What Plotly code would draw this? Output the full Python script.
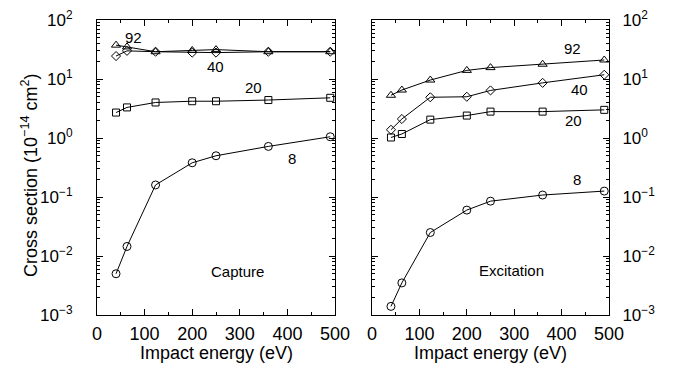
import numpy as np
import plotly.graph_objects as go

# ---------------- data ----------------
energy = [40, 63, 123, 200, 250, 360, 490]

capture_8 = [0.005, 0.0145, 0.16, 0.38, 0.50, 0.72, 1.05]
capture_20 = [2.7, 3.3, 4.0, 4.2, 4.2, 4.4, 4.8]
capture_40 = [24.5, 30, 29, 28, 28, 29, 29]
capture_92 = [37.5, 35, 29, 30.5, 31.5, 29, 29]

excitation_8 = [0.0014, 0.0035, 0.025, 0.06, 0.085, 0.108, 0.126]
excitation_20 = [1.02, 1.17, 2.05, 2.4, 2.8, 2.8, 3.0]
excitation_40 = [1.38, 2.1, 4.9, 5.0, 6.4, 8.6, 11.8]
excitation_92 = [5.3, 6.5, 9.6, 14, 15.6, 17.8, 21]

x_ticks = [0, 100, 200, 300, 400, 500]
y_tickvals = [1e-3, 1e-2, 1e-1, 1, 10, 100]
y_ticktext = ["10<sup>\u22123</sup>", "10<sup>\u22122</sup>", "10<sup>\u22121</sup>",
              "10<sup>0</sup>", "10<sup>1</sup>", "10<sup>2</sup>"]

# label text / positions (data coords: x in eV, y in log10)
cap_labels = [("92", 76, 1.71), ("40", 248, 1.22), ("20", 328, 0.85), ("8", 410, -0.34)]
exc_labels = [("92", 422, 1.51), ("40", 437, 0.83), ("20", 426, 0.29), ("8", 433, -0.71)]

FONT = "Liberation Sans, Arial, Helvetica, sans-serif"

fig = go.Figure()

symbols = [("triangle-up-open", 8), ("diamond-open", 7), ("square-open", 7), ("circle-open", 8)]

for vals, (sym, sz) in zip([capture_92, capture_40, capture_20, capture_8], symbols):
    fig.add_trace(go.Scatter(x=energy, y=vals, mode="lines+markers",
                             line=dict(color="black", width=1),
                             marker=dict(symbol=sym, size=sz, color="black",
                                         line=dict(width=1, color="black")),
                             xaxis="x", yaxis="y", showlegend=False))

for vals, (sym, sz) in zip([excitation_92, excitation_40, excitation_20, excitation_8], symbols):
    fig.add_trace(go.Scatter(x=energy, y=vals, mode="lines+markers",
                             line=dict(color="black", width=1),
                             marker=dict(symbol=sym, size=sz, color="black",
                                         line=dict(width=1, color="black")),
                             xaxis="x2", yaxis="y2", showlegend=False))

xcommon = dict(range=[0, 500], tickvals=x_ticks, ticks="inside", ticklen=6,
               tickcolor="black", showline=True, linecolor="black", linewidth=1,
               mirror="ticks", showgrid=False, zeroline=False, automargin=False,
               tickfont=dict(family=FONT, size=18, color="black"),
               minor=dict(ticks="inside", ticklen=3, dtick=50, tickcolor="black",
                          showgrid=False),
               ticklabelstandoff=2)
ycommon = dict(type="log", range=[-3, 2], tickvals=y_tickvals, ticktext=y_ticktext,
               ticks="inside", ticklen=6, tickcolor="black", showline=True,
               linecolor="black", linewidth=1, mirror="ticks", showgrid=False,
               zeroline=False, automargin=False,
               tickfont=dict(family=FONT, size=17, color="black"),
               minor=dict(ticks="inside", ticklen=3, dtick="D1", tickcolor="black",
                          showgrid=False))

fig.update_layout(
    width=673, height=375,
    margin=dict(l=0, r=0, t=0, b=0, autoexpand=False),
    paper_bgcolor="white", plot_bgcolor="white",
    font=dict(family=FONT, color="black"),
    xaxis=dict(domain=[97 / 673, 335 / 673], anchor="y", **xcommon),
    yaxis=dict(domain=[1 - 315 / 375, 1 - 20 / 375], anchor="x", side="left",
               ticklabelstandoff=20, **ycommon),
    xaxis2=dict(domain=[372 / 673, 609 / 673], anchor="y2", **xcommon),
    yaxis2=dict(domain=[1 - 315 / 375, 1 - 20 / 375], anchor="x2", side="right",
                ticklabelstandoff=9, **ycommon),
)

ann = []
for t, x, y in cap_labels:
    ann.append(dict(text=t, x=x, y=y, xref="x", yref="y", showarrow=False,
                    font=dict(family=FONT, size=15, color="black")))
for t, x, y in exc_labels:
    ann.append(dict(text=t, x=x, y=y, xref="x2", yref="y2", showarrow=False,
                    font=dict(family=FONT, size=15, color="black")))
ann.append(dict(text="Capture", x=296, y=-2.27, xref="x", yref="y", showarrow=False,
                font=dict(family=FONT, size=15, color="black")))
ann.append(dict(text="Excitation", x=294, y=-2.24, xref="x2", yref="y2", showarrow=False,
                font=dict(family=FONT, size=15, color="black")))
ann.append(dict(text="Impact energy (eV)", x=216 / 673, y=1 - 353 / 375, xref="paper",
                yref="paper", xanchor="center", yanchor="middle", showarrow=False,
                font=dict(family=FONT, size=18, color="black")))
ann.append(dict(text="Impact energy (eV)", x=490 / 673, y=1 - 353 / 375, xref="paper",
                yref="paper", xanchor="center", yanchor="middle", showarrow=False,
                font=dict(family=FONT, size=18, color="black")))
ann.append(dict(text="Cross section (10<sup>\u221214</sup> cm<sup>2</sup>)", x=29 / 673,
                y=1 - 176 / 375, xref="paper", yref="paper", xanchor="center",
                yanchor="middle", showarrow=False, textangle=-90,
                font=dict(family=FONT, size=18, color="black")))
fig.update_layout(annotations=ann)

fig.write_html("out.html", config={"displayModeBar": False},
               post_script="document.body.style.margin='0';")
